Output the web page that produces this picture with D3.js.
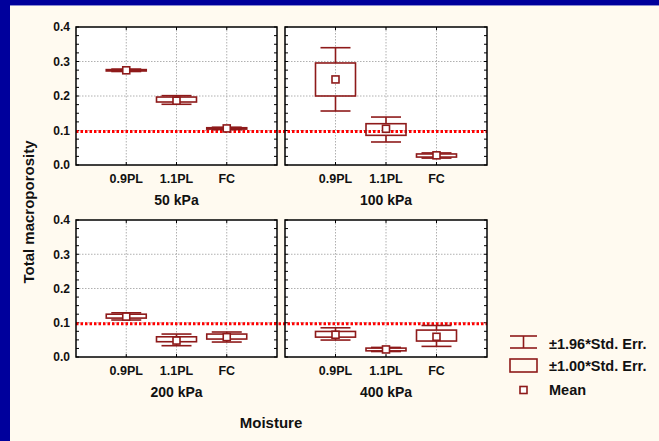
<!DOCTYPE html>
<html>
<head>
<meta charset="utf-8">
<script src="https://cdn.jsdelivr.net/npm/d3@7/dist/d3.min.js"></script>
<style>
  html, body { margin: 0; padding: 0; background: #fffaf0; }
  svg { display: block; }
  text { font-family: "Liberation Sans", Arial, sans-serif; font-weight: bold; fill: #111; }
</style>
</head>
<body>
<svg id="chart" width="659" height="441"></svg>
<script>
// Moisture categories and compaction pressures
const categories = ["0.9PL", "1.1PL", "FC"];
const pressures = ["50 kPa", "100 kPa", "200 kPa", "400 kPa"];

// Total macroporosity: mean, ±1.00*SE box, ±1.96*SE whiskers (per pressure, per category)
const meanVals = [
  [0.2745, 0.1864, 0.106],
  [0.248, 0.105, 0.028],
  [0.118, 0.048, 0.058],
  [0.065, 0.022, 0.059]
];
const seLow = [
  [0.2725, 0.1826, 0.104],
  [0.200, 0.086, 0.023],
  [0.1136, 0.0446, 0.0524],
  [0.058, 0.018, 0.0466]
];
const seHigh = [
  [0.2765, 0.197, 0.108],
  [0.2957, 0.1197, 0.032],
  [0.125, 0.059, 0.067],
  [0.0746, 0.026, 0.0786]
];
const ciLow = [
  [0.271, 0.176, 0.1025],
  [0.1565, 0.0667, 0.020],
  [0.108, 0.033, 0.0437],
  [0.0495, 0.016, 0.031]
];
const ciHigh = [
  [0.278, 0.201, 0.1095],
  [0.340, 0.139, 0.035],
  [0.129, 0.067, 0.073],
  [0.0853, 0.028, 0.092]
];
const yTicks = [0, 0.1, 0.2, 0.3, 0.4];
const refLevel = 0.097;
const legendItems = ["±1.96*Std. Err.", "±1.00*Std. Err.", "Mean"];

const W = 659, H = 441;
const svg = d3.select("#chart");
const markColor = "#8e1a1a";

// page background with the blue frame on top and left
svg.append("rect").attr("width", W).attr("height", H).attr("fill", "#fffaf0");
svg.append("rect").attr("x", 0).attr("y", 0).attr("width", W).attr("height", 5).attr("fill", "#00009c");
svg.append("rect").attr("x", 0).attr("y", 0).attr("width", 10).attr("height", H).attr("fill", "#00009c");
svg.append("rect").attr("x", 10).attr("y", 5).attr("width", W - 10).attr("height", 1).attr("fill", "#8c8cd0");

// panel geometry (2 x 2 grid)
const colX = [[76, 277], [285, 487]];
const rowY = [[27, 165], [220, 357]];

const panels = pressures.map((p, i) => {
  const c = i % 2, r = Math.floor(i / 2);
  const x = d3.scalePoint().domain(categories).range(colX[c]).padding(1);
  const y = d3.scaleLinear().domain([0, 0.4]).range([rowY[r][1], rowY[r][0]]);
  return { name: p, i, c, r, x, y };
});

const minorTicks = d3.range(0, 0.4001, 0.025);

panels.forEach(pn => {
  const { x, y, c, r } = pn;
  const [x0, x1] = colX[c];
  const [yt, yb] = rowY[r];
  const g = svg.append("g");

  g.append("rect").attr("x", x0).attr("y", yt).attr("width", x1 - x0).attr("height", yb - yt)
    .attr("fill", "#ffffff");

  // grid
  g.selectAll(".hg").data(yTicks.filter(v => v > 0 && v < 0.4)).join("line")
    .attr("x1", x0).attr("x2", x1).attr("y1", d => y(d)).attr("y2", d => y(d))
    .attr("stroke", "#b0b0b0").attr("stroke-width", 1).attr("stroke-dasharray", "1.5,1.5");
  g.selectAll(".vg").data(categories).join("line")
    .attr("x1", d => x(d)).attr("x2", d => x(d)).attr("y1", yt).attr("y2", yb)
    .attr("stroke", "#b0b0b0").attr("stroke-width", 1).attr("stroke-dasharray", "1.5,1.5");

  // minor ticks inside both vertical edges
  g.selectAll(".tl").data(minorTicks).join("line")
    .attr("x1", x0).attr("x2", x0 + 3).attr("y1", d => y(d)).attr("y2", d => y(d))
    .attr("stroke", "#000").attr("stroke-width", 1);
  g.selectAll(".tr").data(minorTicks).join("line")
    .attr("x1", x1 - 3).attr("x2", x1).attr("y1", d => y(d)).attr("y2", d => y(d))
    .attr("stroke", "#000").attr("stroke-width", 1);
  g.selectAll(".tb").data(categories).join("line")
    .attr("x1", d => x(d)).attr("x2", d => x(d)).attr("y1", yb).attr("y2", yb - 3)
    .attr("stroke", "#000").attr("stroke-width", 1);
  g.selectAll(".tt").data(categories).join("line")
    .attr("x1", d => x(d)).attr("x2", d => x(d)).attr("y1", yt).attr("y2", yt + 3)
    .attr("stroke", "#000").attr("stroke-width", 1);

  // y tick labels on left column only
  if (c === 0) {
    g.selectAll(".yl").data(yTicks).join("text")
      .attr("x", x0 - 6).attr("y", d => y(d)).attr("dy", "0.36em")
      .attr("text-anchor", "end").attr("font-size", 12)
      .text(d => d.toFixed(1));
  }

  // category labels
  g.selectAll(".xl").data(categories).join("text")
    .attr("x", d => x(d)).attr("y", yb + 18).attr("text-anchor", "middle")
    .attr("font-size", 12.5).text(d => d);

  // panel label
  g.append("text").attr("x", (x0 + x1) / 2).attr("y", yb + 40)
    .attr("text-anchor", "middle").attr("font-size", 14).text(pn.name);
});

// reference level across each row of panels
rowY.forEach((ry, r) => {
  const y = panels[r * 2].y;
  svg.append("line")
    .attr("x1", colX[0][0]).attr("x2", colX[1][1])
    .attr("y1", y(refLevel)).attr("y2", y(refLevel))
    .attr("stroke", "#ff0000").attr("stroke-width", 3).attr("stroke-dasharray", "2.5,2");
});

// box-and-whisker marks
panels.forEach(pn => {
  const { x, y, i } = pn;
  const g = svg.append("g").attr("fill", "none").attr("stroke", markColor).attr("stroke-width", 1.6);
  categories.forEach((cat, j) => {
    const cx = x(cat);
    const bw = 40, cw = 30, ms = 7;
    const lo = ciLow[i][j], hi = ciHigh[i][j], bl = seLow[i][j], bh = seHigh[i][j], m = meanVals[i][j];
    g.append("line").attr("x1", cx).attr("x2", cx).attr("y1", y(hi)).attr("y2", y(bh));
    g.append("line").attr("x1", cx).attr("x2", cx).attr("y1", y(bl)).attr("y2", y(lo));
    g.append("line").attr("x1", cx - cw / 2).attr("x2", cx + cw / 2).attr("y1", y(hi)).attr("y2", y(hi));
    g.append("line").attr("x1", cx - cw / 2).attr("x2", cx + cw / 2).attr("y1", y(lo)).attr("y2", y(lo));
    g.append("rect").attr("x", cx - bw / 2).attr("y", y(bh)).attr("width", bw)
      .attr("height", Math.max(0.5, y(bl) - y(bh)));
    g.append("rect").attr("x", cx - ms / 2).attr("y", y(m) - ms / 2).attr("width", ms).attr("height", ms)
      .attr("fill", "#ffffff");
  });
});

// panel frames
panels.forEach(pn => {
  const [x0, x1] = colX[pn.c];
  const [yt, yb] = rowY[pn.r];
  svg.append("rect").attr("x", x0).attr("y", yt).attr("width", x1 - x0).attr("height", yb - yt)
    .attr("fill", "none").attr("stroke", "#000").attr("stroke-width", 1.5);
});

// axis titles
svg.append("text").attr("transform", "translate(34,212) rotate(-90)")
  .attr("text-anchor", "middle").attr("font-size", 15).text("Total macroporosity");
svg.append("text").attr("x", 271).attr("y", 428)
  .attr("text-anchor", "middle").attr("font-size", 15).text("Moisture");

// legend
const lg = svg.append("g");
const lx0 = 510, lx1 = 537, lcx = (lx0 + lx1) / 2;
const lgStroke = { stroke: markColor, "stroke-width": 1.6, fill: "none" };
function sty(sel) { Object.entries(lgStroke).forEach(([k, v]) => sel.attr(k, v)); return sel; }
sty(lg.append("line").attr("x1", lx0).attr("x2", lx1).attr("y1", 336).attr("y2", 336));
sty(lg.append("line").attr("x1", lx0).attr("x2", lx1).attr("y1", 348).attr("y2", 348));
sty(lg.append("line").attr("x1", lcx).attr("x2", lcx).attr("y1", 336).attr("y2", 348));
sty(lg.append("rect").attr("x", lx0).attr("y", 359).attr("width", lx1 - lx0).attr("height", 13));
sty(lg.append("rect").attr("x", lcx - 3.5).attr("y", 386.5).attr("width", 7).attr("height", 7)).attr("fill", "#fff");
const legY = [349, 371, 395];
lg.selectAll("text").data(legendItems).join("text")
  .attr("x", 549).attr("y", (d, k) => legY[k]).attr("font-size", 14.5).text(d => d);
</script>
</body>
</html>
